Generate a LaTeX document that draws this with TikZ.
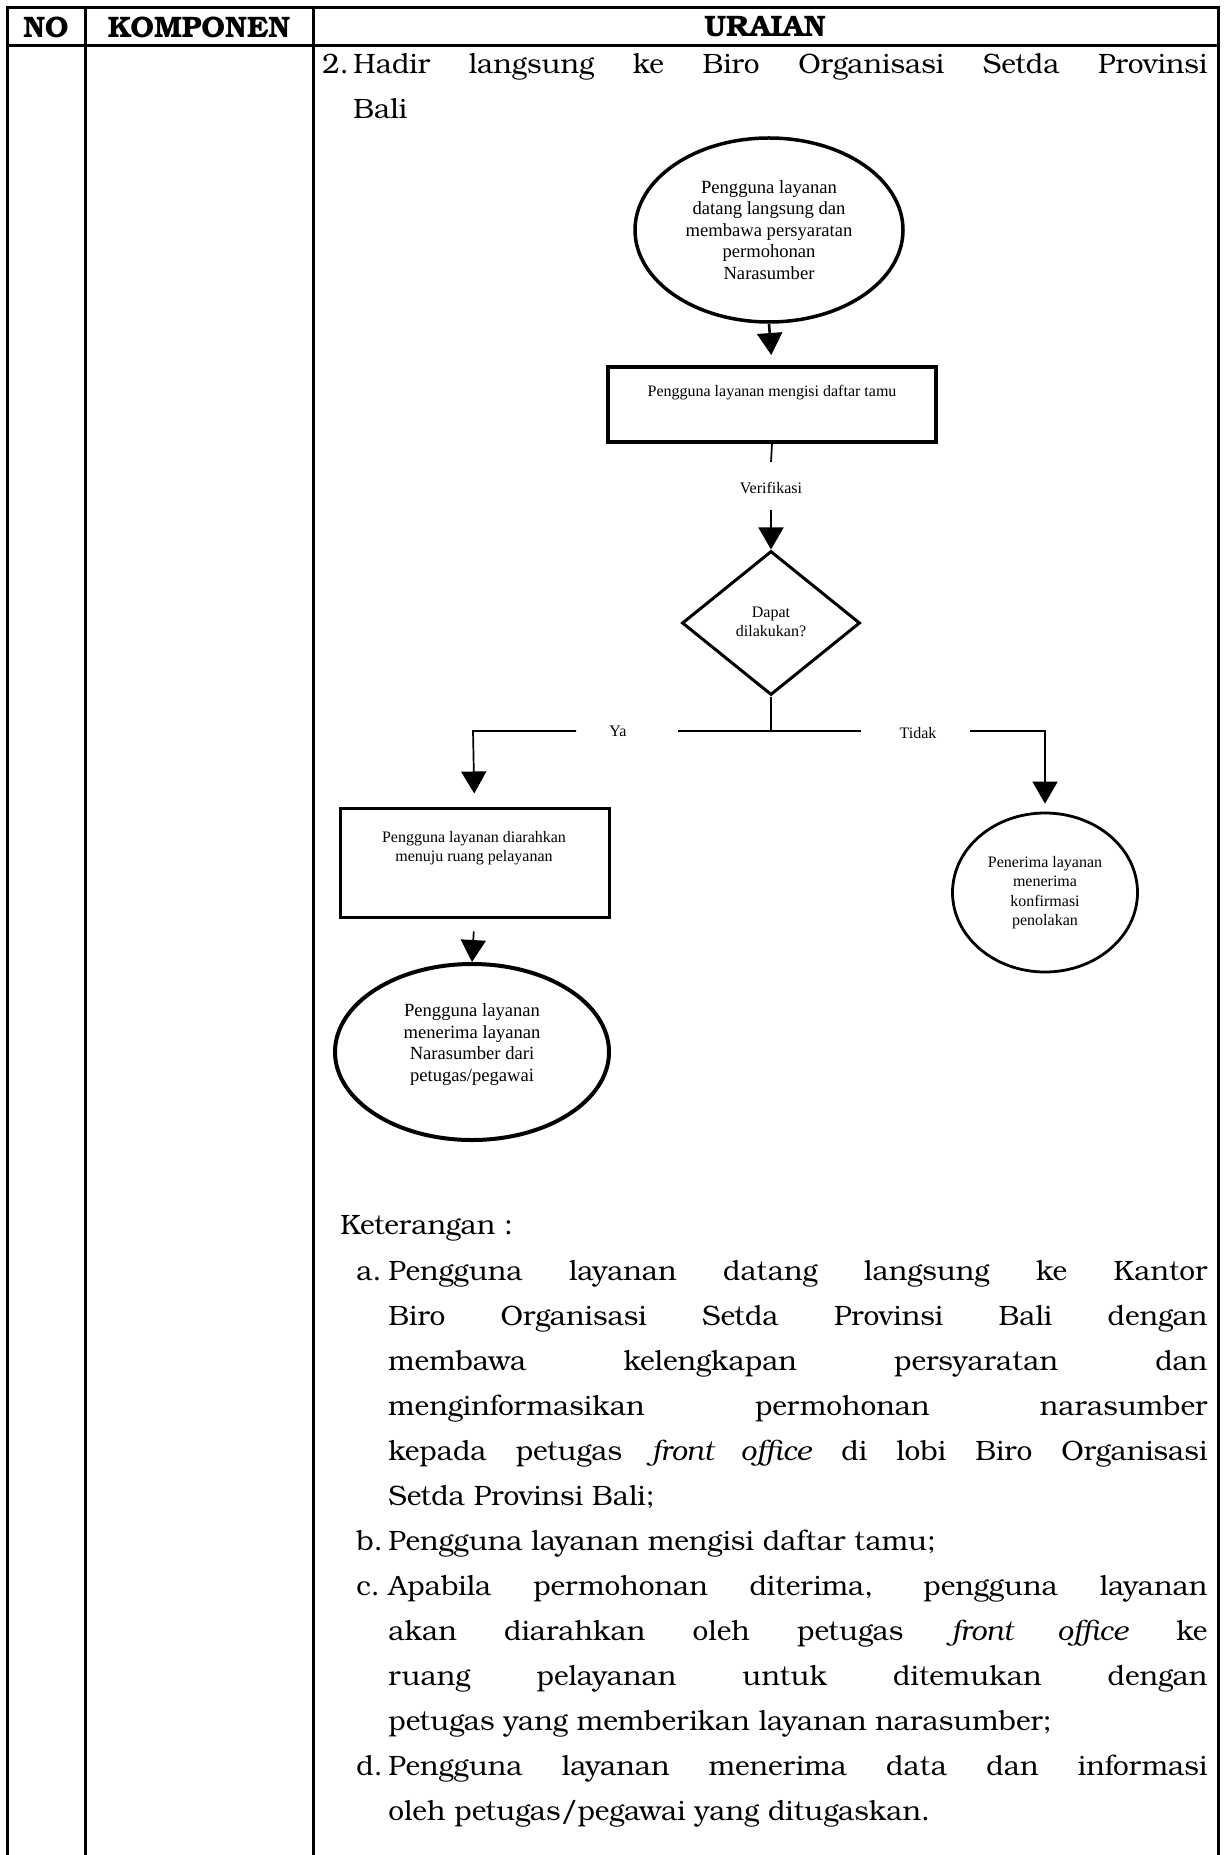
\documentclass[tikz,border=0pt]{standalone}
\usepackage{fontspec}
\setmainfont{texgyrebonum}[Extension=.otf, UprightFont=*-regular, BoldFont=*-bold, ItalicFont=*-italic, BoldItalicFont=*-bolditalic]
\newfontfamily\tnr{Liberation Serif}
\usetikzlibrary{shapes.geometric, arrows.meta}
\hbadness=10000
\tolerance=10000

\tikzset{
  rule/.style={line width=1.5pt},
  hdr/.style={font=\bfseries\fontsize{14.8}{16}\selectfont, inner sep=0pt},
  bodytext/.style={font=\fontsize{14}{22.5}\selectfont, inner sep=0pt, anchor=base west},
  para/.style={bodytext, align=justify},
  flowbig/.style={font=\tnr\fontsize{9.3}{10.75}\selectfont, align=center, inner sep=0pt},
  flowsmall/.style={font=\tnr\fontsize{8}{9.75}\selectfont, align=center, inner sep=0pt},
  oval/.style={ellipse, draw, inner sep=0pt},
  procbox/.style={rectangle, draw, inner sep=0pt},
  decision/.style={diamond, draw, line width=1.5pt, inner sep=0pt},
  conn/.style={line width=0.85pt, black},
  arrowed/.style={conn, -{Triangle[width=12.5pt,length=11pt]}},
}

\begin{document}
\begin{tikzpicture}[x=0.5pt,y=-0.5pt]
  \useasboundingbox (0,0) rectangle (1225,1855);
  \fill[white] (0,0) rectangle (1225,1855);

  % table frame
  \draw[rule] (7,1860) -- (7,8) -- (1218,8) -- (1218,1860);
  \draw[rule] (85,8) -- (85,1860);
  \draw[rule] (313,8) -- (313,1860);
  \draw[rule] (7,46) -- (1218,46);

  % header row
  \node[hdr] (hno) at (46,27) {NO};
  \node[hdr] (hkomp) at (199,27) {KOMPONEN};
  \node[hdr] (hurai) at (765,27) {URAIAN};

  % section title
  \node[bodytext] (tnum) at (322,74) {2.};
  \node[para, text width=427pt] (ttext) at (353,74)
    {Hadir langsung ke Biro Organisasi Setda Provinsi\linebreak Bali};

  % flowchart
  \node[oval, line width=1.75pt, minimum width=134pt, minimum height=92pt,
        flowbig] (start) at (769,230)
    {Pengguna layanan\\datang langsung dan\\membawa persyaratan\\permohonan\\Narasumber};

  \node[procbox, line width=2pt, minimum width=164pt, minimum height=37.5pt]
    (reg) at (772,404.5) {};
  \node[flowsmall] (regtxt) at (772,393) {Pengguna layanan mengisi daftar tamu};

  \node[flowsmall] (verif) at (771,488) {Verifikasi};
  \coordinate (v1) at (771,462);
  \coordinate (v2) at (771,510);

  \node[decision, minimum width=89pt, minimum height=72pt] (dec) at (771,623) {};
  \node[flowsmall] (dectxt) at (771,622) {Dapat\\dilakukan?};

  \coordinate (j) at (771,731);
  \coordinate (jl) at (678,731);
  \coordinate (jr) at (861,731);
  \node[flowsmall] (ya) at (618,731) {Ya};
  \node[flowsmall] (tidak) at (918,733) {Tidak};
  \coordinate (yl) at (576,731);
  \coordinate (yc) at (473,731);
  \coordinate (tl) at (970,731);
  \coordinate (tc) at (1045,731);

  \node[procbox, line width=1.5pt, minimum width=134.5pt, minimum height=54.5pt]
    (room) at (474.5,862.5) {};
  \node[flowsmall] (roomtxt) at (474,848)
    {Pengguna layanan diarahkan\\menuju ruang pelayanan};

  \node[oval, line width=2pt, minimum width=137pt, minimum height=88pt]
    (serve) at (472,1052) {};
  \node[flowbig] (servetxt) at (472,1044.5)
    {Pengguna layanan\\menerima layanan\\Narasumber dari\\petugas/pegawai};

  \node[oval, line width=1.4pt, minimum width=92.5pt, minimum height=79.5pt,
        flowsmall] (reject) at (1045,892.5)
    {Penerima layanan\\menerima\\konfirmasi\\penolakan};

  % connectors
  \draw[arrowed, line width=1.3pt, shorten >=5pt] (start.south) -- (reg.north);
  \draw[conn] (reg.south) -- (v1);
  \draw[arrowed] (v2) -- (dec.north);
  \draw[conn] (dec.south) -- (j);
  \draw[conn] (jl) -- (jr);
  \draw[arrowed, shorten >=6.5pt] (yl) -- (yc) -- (room.north);
  \draw[arrowed, shorten >=4pt] (tl) -- (tc) -- (reject.north);
  \draw[arrowed, shorten <=6.5pt] (room.south) -- (serve.north);

  % notes
  \node[bodytext] (ket) at (340,1234) {Keterangan :};

  \node[bodytext] (la) at (356,1280) {a.};
  \node[para, text width=409.5pt] (pa) at (388,1280)
    {Pengguna layanan datang langsung ke Kantor\linebreak
     Biro Organisasi Setda Provinsi Bali dengan\linebreak
     membawa kelengkapan persyaratan dan\linebreak
     menginformasikan permohonan narasumber\linebreak
     kepada petugas \textit{front office} di lobi Biro Organisasi\linebreak
     Setda Provinsi Bali;};

  \node[bodytext] (lb) at (356,1550) {b.};
  \node[para, text width=409.5pt] (pb) at (388,1550)
    {Pengguna layanan mengisi daftar tamu;};

  \node[bodytext] (lc) at (356,1595) {c.};
  \node[para, text width=409.5pt] (pc) at (388,1595)
    {Apabila permohonan diterima, pengguna layanan\linebreak
     akan diarahkan oleh petugas \textit{front office} ke\linebreak
     ruang pelayanan untuk ditemukan dengan\linebreak
     petugas yang memberikan layanan narasumber;};

  \node[bodytext] (ld) at (356,1775) {d.};
  \node[para, text width=409.5pt] (pd) at (388,1775)
    {Pengguna layanan menerima data dan informasi\linebreak
     oleh petugas/pegawai yang ditugaskan.};
\end{tikzpicture}
\end{document}
